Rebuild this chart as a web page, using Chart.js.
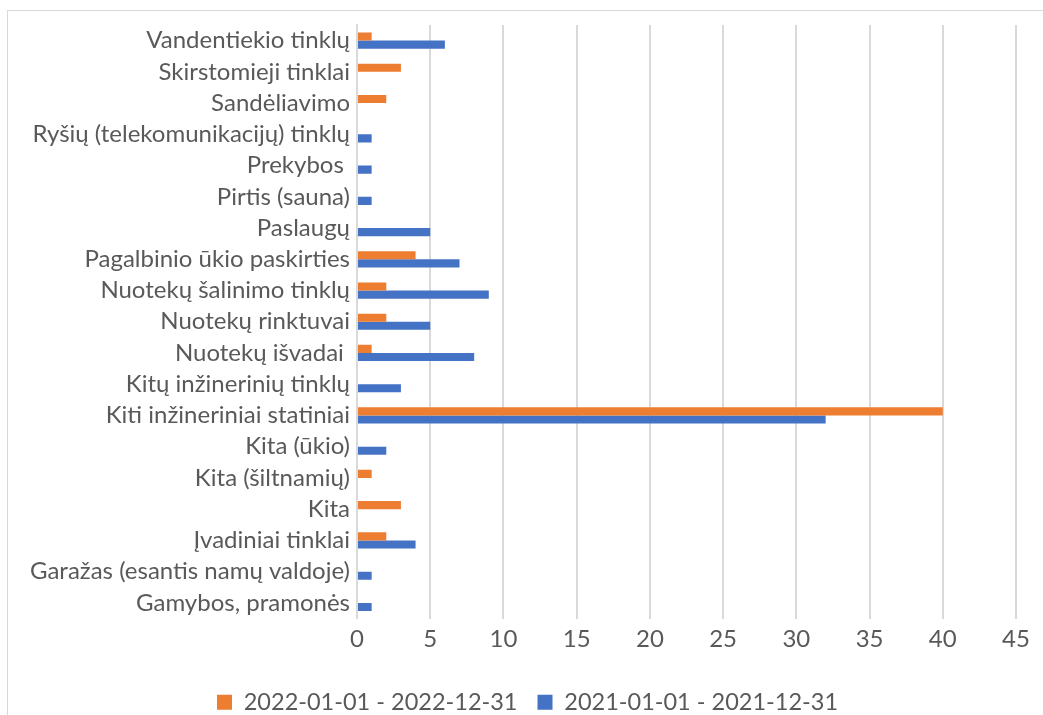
<!DOCTYPE html>
<html><head><meta charset="utf-8">
<script src="https://cdn.jsdelivr.net/npm/chart.js@4"></script>
<style>
html,body{margin:0;padding:0;background:#fff;overflow:hidden}
#frame{position:absolute;left:7px;top:10px;width:1100px;height:800px;border:1px solid #d9d9d9;box-sizing:border-box}
#wrap{position:absolute;left:0;top:0;width:1043px;height:715px}
</style></head>
<body><div id="frame"></div><div id="wrap"><canvas id="c" width="1043" height="715"></canvas></div>
<script>
const categories = [
  "Vandentiekio tinklų",
  "Skirstomieji tinklai",
  "Sandėliavimo",
  "Ryšių (telekomunikacijų) tinklų",
  "Prekybos ",
  "Pirtis (sauna)",
  "Paslaugų",
  "Pagalbinio ūkio paskirties",
  "Nuotekų šalinimo tinklų",
  "Nuotekų rinktuvai",
  "Nuotekų išvadai ",
  "Kitų inžinerinių tinklų",
  "Kiti inžineriniai statiniai",
  "Kita (ūkio)",
  "Kita (šiltnamių)",
  "Kita",
  "Įvadiniai tinklai",
  "Garažas (esantis namų valdoje)",
  "Gamybos, pramonės"
];
const values2022 = [1, 3, 2, 0, 0, 0, 0, 4, 2, 2, 1, 0, 40, 0, 1, 3, 2, 0, 0];
const values2021 = [6, 0, 0, 1, 1, 1, 5, 7, 9, 5, 8, 3, 32, 2, 0, 0, 4, 1, 1];
const seriesLabels = ["2022-01-01 - 2022-12-31", "2021-01-01 - 2021-12-31"];
const xMin = 0, xMax = 45, xStep = 5;

const textColor = "#595959";
const fontFam = "Lato, 'Open Sans', sans-serif";

const legendShift = {
  id: "legendShift",
  afterLayout(chart) {
    const lg = chart.legend;
    if (lg) { lg.left += 16; lg.right += 16; }
  }
};

new Chart(document.getElementById("c"), {
  type: "bar",
  data: {
    labels: categories,
    datasets: [
      { label: seriesLabels[0], data: values2022, backgroundColor: "#ED7D31", categoryPercentage: 0.52, barPercentage: 1.0 },
      { label: seriesLabels[1], data: values2021, backgroundColor: "#4472C4", categoryPercentage: 0.52, barPercentage: 1.0 }
    ]
  },
  plugins: [legendShift],
  options: {
    indexAxis: "y",
    responsive: false,
    animation: false,
    devicePixelRatio: 1,
    layout: { padding: { left: 7, top: 25, right: 27, bottom: -9 } },
    plugins: {
      tooltip: { enabled: false },
      legend: {
        position: "bottom",
        labels: {
          color: textColor,
          font: { family: fontFam, size: 23.5, lineHeight: 1 },
          boxWidth: 15, boxHeight: 15,
          padding: 20
        }
      }
    },
    scales: {
      x: {
        min: xMin, max: xMax,
        ticks: { stepSize: xStep, color: textColor, font: { family: fontFam, size: 24 }, padding: 6 },
        grid: { color: "#d9d9d9", lineWidth: 2, drawTicks: false },
        border: { display: false },
        afterFit(s) { s.height = 52; }
      },
      y: {
        ticks: { color: textColor, font: { family: fontFam, size: 24 }, padding: 7, autoSkip: false },
        grid: { display: false, drawTicks: false },
        border: { display: true, color: "#d9d9d9", width: 2 },
        afterFit(s) { s.width = 350; }
      }
    }
  }
});
</script>
</body></html>
